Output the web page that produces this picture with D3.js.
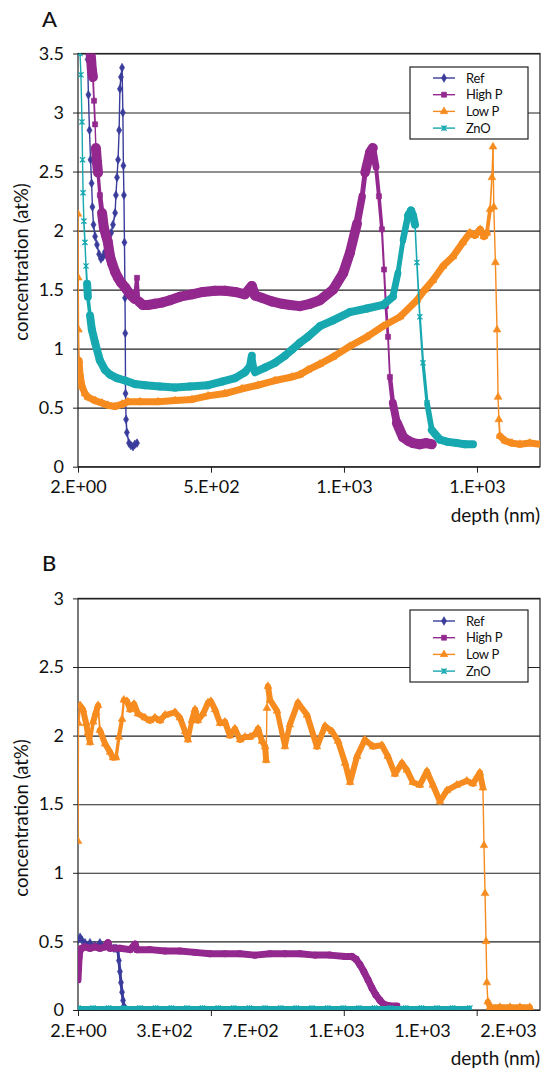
<!DOCTYPE html>
<html lang="en">
<head>
<meta charset="UTF-8">
<title>Concentration depth profiles</title>
<style>
  body { margin: 0; background: #fff; }
  svg { display: block; font-family: Lato, "Open Sans", sans-serif; }
</style>
</head>
<body>
<svg width="543" height="1072"></svg>
<script src="https://d3js.org/d3.v7.min.js"></script>
<script>
// series names / colours (legend order)
const seriesNames = ["Ref", "High P", "Low P", "ZnO"];
const seriesColors = ["#3a3c9c", "#93288f", "#f68b1f", "#17a8b0"];

// ---- panel A : [depth nm, concentration at%] ----
const aRef = [[32,3.8],[38,3.45],[41,3.15],[45,2.85],[49,2.6],[53,2.4],[56,2.2],[60,2.05],[66,1.95],[73,1.88],
  [81,1.8],[88,1.76],[96,1.78],[103,1.82],[111,1.88],[118,1.93],[126,1.98],[133,2.05],[141,2.15],[144,2.3],
  [148,2.45],[152,2.6],[156,2.85],[159,3.2],[163,3.3],[167,3.38],[170,3.0],[172,2.55],[174,2.3],[176,1.9],
  [178,1.43],[179,1.13],[180,0.62],[182,0.4],[185,0.29],[193,0.2],[200,0.18],[208,0.17],[215,0.19],[223,0.2]];
const aHigh = [[43,3.7],[47,3.55],[51,3.45],[54,3.36],[58,3.3],[62,3.1],[66,2.9],[69,2.7],[73,2.58],[77,2.49],
  [84,2.3],[92,2.15],[99,2.02],[107,1.96],[114,1.9],[122,1.78],[130,1.72],[141,1.65],[152,1.6],[163,1.56],
  [178,1.52],[197,1.46],[215,1.42],[223,1.6],[230,1.4],[245,1.37],[264,1.37],[290,1.38],[316,1.39],[346,1.41],
  [384,1.44],[429,1.46],[470,1.48],[515,1.49],[552,1.49],[590,1.48],[627,1.46],[653,1.53],[665,1.45],[691,1.43],
  [728,1.4],[766,1.38],[796,1.37],[833,1.36],[871,1.38],[908,1.41],[957,1.5],[995,1.64],[1020,1.81],[1047,2.06],
  [1066,2.29],[1077,2.49],[1095,2.66],[1106,2.7],[1118,2.54],[1129,2.29],[1140,2.01],[1148,1.67],[1155,1.36],
  [1163,1.1],[1170,0.76],[1181,0.54],[1196,0.37],[1219,0.25],[1238,0.22],[1256,0.2],[1282,0.19],[1305,0.2],[1327,0.19]];
const aLow = [[2,2.14],[3,1.6],[4,1.16],[6,0.9],[9.5,0.78],[17,0.68],[28,0.62],[39,0.59],[66,0.56],[92,0.54],
  [114,0.52],[141,0.51],[167,0.53],[189,0.55],[234,0.55],[302,0.55],[365,0.56],[429,0.57],[489,0.6],[552,0.62],
  [616,0.66],[676,0.69],[740,0.73],[803,0.76],[833,0.78],[863,0.82],[908,0.87],[957,0.93],[1020,1.02],[1084,1.1],
  [1144,1.19],[1208,1.27],[1271,1.41],[1301,1.5],[1331,1.58],[1369,1.7],[1406,1.78],[1443,1.9],[1470,1.98],
  [1488,1.96],[1508,2.01],[1522,1.95],[1533,1.98],[1545,2.18],[1552,2.45],[1556,2.71],[1559,2.2],[1565,1.73],
  [1571,1.16],[1575,0.59],[1578,0.4],[1582,0.26],[1601,0.22],[1627,0.2],[1657,0.19],[1694,0.2],[1732,0.19]];
const aZnO = [[8,3.8],[9.5,3.5],[13,3.32],[17,2.92],[19,2.6],[21,2.32],[24,2.08],[28,1.9],[32,1.7],[36,1.55],
  [39,1.44],[47,1.28],[54,1.16],[66,1.05],[84,0.9],[103,0.82],[122,0.78],[148,0.75],[178,0.73],[215,0.7],
  [253,0.69],[309,0.68],[365,0.67],[421,0.68],[489,0.69],[541,0.72],[590,0.75],[627,0.8],[646,0.85],[653,0.94],
  [665,0.8],[702,0.84],[740,0.88],[777,0.94],[803,0.99],[833,1.05],[863,1.1],[908,1.19],[957,1.24],[1020,1.31],
  [1084,1.34],[1144,1.37],[1181,1.44],[1200,1.64],[1219,1.92],[1238,2.13],[1249,2.17],[1256,2.13],[1264,2.05],
  [1271,1.73],[1282,1.27],[1294,0.88],[1309,0.54],[1327,0.31],[1357,0.23],[1387,0.21],[1421,0.2],[1451,0.19],[1481,0.19]];

// ---- panel B ----
const bRef = [[2,0.51],[10,0.53],[17,0.51],[29,0.49],[48,0.49],[67,0.47],[86,0.49],[106,0.47],[125,0.46],[140,0.45],
  [148,0.45],[155,0.44],[159,0.36],[163,0.28],[167,0.2],[171,0.13],[175,0.07],[178,0.03],[182,0.01]];
const bHigh = [[2,0.22],[4,0.3],[6,0.38],[10,0.44],[17,0.45],[29,0.46],[48,0.45],[67,0.46],[86,0.45],[106,0.46],
  [117,0.49],[125,0.45],[163,0.45],[202,0.44],[221,0.48],[228,0.44],[278,0.44],[336,0.43],[393,0.43],[451,0.42],
  [508,0.41],[566,0.41],[624,0.41],[681,0.4],[739,0.41],[796,0.41],[854,0.41],[911,0.4],[969,0.4],[1027,0.39],
  [1053,0.39],[1069,0.37],[1084,0.33],[1099,0.28],[1115,0.22],[1130,0.16],[1145,0.11],[1161,0.07],[1176,0.04],
  [1199,0.03],[1226,0.03]];
const bLow = [[2,1.23],[4,2.09],[10,2.22],[21,2.19],[33,2.09],[40,2.02],[48,1.95],[60,2.1],[71,2.17],[79,2.22],
  [86,2.04],[106,1.94],[125,1.88],[136,1.84],[148,1.84],[159,1.99],[171,2.12],[178,2.26],[190,2.25],[202,2.19],
  [217,2.23],[232,2.16],[259,2.13],[278,2.11],[297,2.13],[317,2.11],[336,2.15],[374,2.17],[393,2.13],[413,2.03],
  [424,1.97],[439,2.11],[451,2.19],[462,2.11],[482,2.16],[501,2.24],[512,2.25],[528,2.19],[547,2.09],[566,2.1],
  [585,2.0],[604,2.05],[624,1.97],[643,1.99],[662,1.99],[681,2.01],[693,2.05],[708,1.96],[720,1.92],[724,1.82],
  [727,2.2],[731,2.36],[739,2.26],[766,2.18],[796,1.92],[815,2.08],[846,2.24],[881,2.15],[919,1.92],[950,2.07],
  [977,2.03],[1000,1.96],[1027,1.8],[1046,1.66],[1073,1.85],[1103,1.97],[1134,1.92],[1168,1.93],[1191,1.85],
  [1218,1.72],[1245,1.8],[1264,1.75],[1287,1.66],[1314,1.64],[1341,1.74],[1364,1.64],[1391,1.52],[1418,1.6],
  [1456,1.64],[1494,1.67],[1518,1.65],[1544,1.73],[1556,1.62],[1560,1.2],[1564,0.85],[1568,0.5],[1571,0.2],
  [1575,0.06],[1583,0.02],[1621,0.02],[1660,0.02],[1698,0.02],[1736,0.02]];
const bZnO = [[2,0.015],[60,0.015],[120,0.015],[180,0.015],[240,0.015],[300,0.015],[360,0.015],[420,0.015],
  [480,0.015],[540,0.015],[600,0.015],[660,0.015],[720,0.015],[780,0.015],[840,0.015],[900,0.015],[960,0.015],
  [1020,0.015],[1080,0.015],[1140,0.015],[1200,0.015],[1260,0.015],[1320,0.015],[1380,0.015],[1440,0.015],[1506,0.015]];

// axis ticks
const aXTicks = [2, 500, 998, 1496];
const aXLabels = ["2.E+00", "5.E+02", "1.E+03", "1.E+03"];
const aYTicks = [0, 0.5, 1, 1.5, 2, 2.5, 3, 3.5];
const bXTicks = [2, 512, 1022, 1532];
const bXLabelPos = [2, 332, 662, 992, 1322, 1652];
const bXLabels = ["2.E+00", "3.E+02", "7.E+02", "1.E+03", "1.E+03", "2.E+03"];
const bYTicks = [0, 0.5, 1, 1.5, 2, 2.5, 3];

const svg = d3.select("svg");
const left = 78, right = 540;

const starPath = s => `M${-s},${-s}L${s},${s}M${-s},${s}L${s},${-s}M0,${-s}L0,${s}`;
const markers = [
  d3.symbol().type(d3.symbolDiamond).size(22)(),
  d3.symbol().type(d3.symbolSquare).size(26)(),
  d3.symbol().type(d3.symbolTriangle).size(26)(),
  starPath(2.6)
];

function drawPanel(o) {
  const x = d3.scaleLinear().domain([2, o.xMax]).range([left, right]);
  const y = d3.scaleLinear().domain([0, o.yMax]).range([o.bottom, o.top]);
  const g = svg.append("g");

  // horizontal gridlines
  g.append("g")
    .attr("transform", `translate(${left},0)`)
    .call(d3.axisLeft(y).tickValues(o.yTicks).tickSize(-(right - left)).tickFormat(""))
    .call(a => a.select(".domain").remove())
    .call(a => a.selectAll("line").attr("stroke", "#222").attr("stroke-width", 1.1));

  // y axis labels
  g.append("g")
    .attr("transform", `translate(${left},0)`)
    .call(d3.axisLeft(y).tickValues(o.yTicks).tickSize(5).tickPadding(9).tickFormat(d => d))
    .call(a => a.select(".domain").remove())
    .call(a => a.selectAll("line").attr("stroke", "#222"))
    .call(a => a.selectAll("text").attr("fill", "#111").style("font-size", "18px")
      .style("font-family", "Lato, sans-serif"));

  // x tick marks
  g.append("g")
    .attr("transform", `translate(0,${o.bottom})`)
    .call(d3.axisBottom(x).tickValues(o.xTicks).tickSize(6).tickFormat(""))
    .call(a => a.select(".domain").remove())
    .call(a => a.selectAll("line").attr("stroke", "#222"));

  // x labels
  g.append("g")
    .attr("transform", `translate(0,${o.bottom})`)
    .call(d3.axisBottom(x).tickValues(o.xLabelPos).tickSize(0).tickPadding(14)
      .tickFormat((d, i) => o.xLabels[i]))
    .call(a => a.select(".domain").remove())
    .call(a => a.selectAll("text").attr("fill", "#111").style("font-size", "18px")
      .style("font-family", "Lato, sans-serif"));

  // frame
  g.append("rect")
    .attr("x", left).attr("y", o.top)
    .attr("width", right - left).attr("height", o.bottom - o.top)
    .attr("fill", "none").attr("stroke", "#222").attr("stroke-width", 1.2);

  // clip for the series
  svg.append("clipPath").attr("id", o.id)
    .append("rect").attr("x", left).attr("y", o.top)
    .attr("width", right - left).attr("height", o.bottom - o.top);

  const plot = g.append("g").attr("clip-path", `url(#${o.id})`);
  o.series.forEach((s, i) => {
    const c = seriesColors[i];
    const band = o.bands[i];
    // dense noisy measurements read as a thick band where the profile is flat,
    // thinning out to a plain line where it climbs or drops steeply
    const segs = d3.pairs(s).map(([p, q]) => {
      const dx = Math.abs(x(q[0]) - x(p[0])), dy = Math.abs(y(q[1]) - y(p[1]));
      const r = dy / Math.max(dx, 0.4);
      const w = (dy < 16 || r < 4) ? band : Math.max(1.4, band * 4 / r);
      return { p, q, w };
    });
    plot.append("g").selectAll("line").data(segs).join("line")
      .attr("x1", d => x(d.p[0])).attr("y1", d => y(d.p[1]))
      .attr("x2", d => x(d.q[0])).attr("y2", d => y(d.q[1]))
      .attr("stroke", c).attr("stroke-width", d => d.w)
      .attr("stroke-linecap", "round");
    plot.append("g").selectAll("path").data(s).join("path")
      .attr("transform", d => `translate(${x(d[0])},${y(d[1])})`)
      .attr("d", markers[i])
      .attr("fill", i === 3 ? "none" : c)
      .attr("stroke", c).attr("stroke-width", i === 3 ? 1.3 : 0.6);
  });

  // legend
  const lg = g.append("g").attr("transform", `translate(410,${o.legendTop})`);
  lg.append("rect").attr("width", 118).attr("height", 72)
    .attr("fill", "#fff").attr("stroke", "#222").attr("stroke-width", 1.2);
  seriesNames.forEach((n, i) => {
    const yy = 11 + i * 16.7;
    lg.append("line").attr("x1", 23).attr("x2", 45).attr("y1", yy).attr("y2", yy)
      .attr("stroke", seriesColors[i]).attr("stroke-width", 1.4);
    lg.append("path").attr("transform", `translate(34,${yy})`).attr("d", markers[i])
      .attr("fill", i === 3 ? "none" : seriesColors[i])
      .attr("stroke", seriesColors[i]).attr("stroke-width", i === 3 ? 1.3 : 0.6);
    lg.append("text").attr("x", 56).attr("y", yy + 4.5).text(n)
      .style("font-size", "13px").style("letter-spacing", "-0.3px").attr("fill", "#111");
  });

  // titles
  g.append("text").attr("x", 42).attr("y", o.top - 27).text(o.letter)
    .style("font-size", "22px").style("font-weight", "500").attr("fill", "#111");
  g.append("text")
    .attr("transform", `translate(28,${o.yTitleMid}) rotate(-90)`)
    .attr("text-anchor", "middle").text("concentration (at%)")
    .style("font-size", "18.5px").attr("fill", "#111");
  g.append("text").attr("x", right).attr("y", o.bottom + 55)
    .attr("text-anchor", "end").text("depth (nm)")
    .style("font-size", "19px").attr("fill", "#111");
}

drawPanel({
  id: "clipA", letter: "A", top: 53.5, bottom: 466.7, yMax: 3.5, xMax: 1732,
  yTicks: aYTicks, xTicks: aXTicks, xLabelPos: aXTicks, xLabels: aXLabels,
  series: [aRef, aHigh, aLow, aZnO], bands: [1.6, 10, 7, 8],
  legendTop: 67, yTitleMid: 262
});

drawPanel({
  id: "clipB", letter: "B", top: 598.4, bottom: 1010, yMax: 3, xMax: 1775,
  yTicks: bYTicks, xTicks: bXTicks, xLabelPos: bXLabelPos, xLabels: bXLabels,
  series: [bRef, bHigh, bLow, bZnO], bands: [3, 7, 6, 4],
  legendTop: 610, yTitleMid: 818
});
</script>
</body>
</html>
